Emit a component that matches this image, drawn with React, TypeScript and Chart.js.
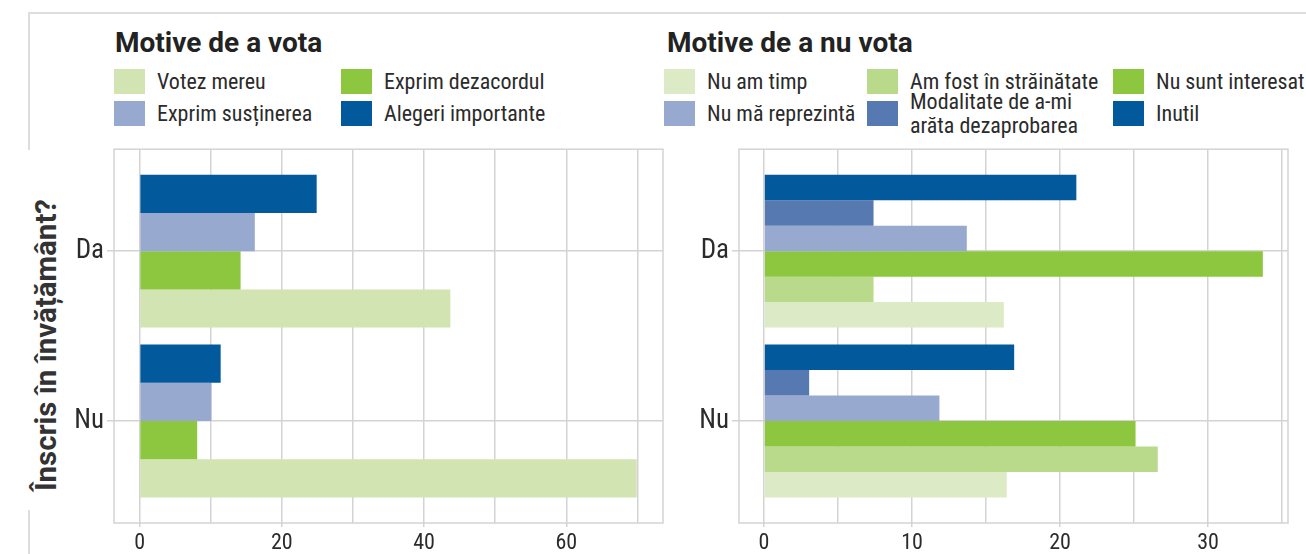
import React, { useEffect, useRef } from 'react';
import { Chart, registerables } from 'chart.js';
Chart.register(...registerables);

// ---------- data ----------
const groups = ['Da', 'Nu'];
const groupPositions = [1, 2];

// "Motive de a vota" (values for Da, Nu)
const votezMereu = [43.7, 69.9];
const exprimDezacordul = [14.2, 8.1];
const exprimSustinerea = [16.2, 10.1];
const alegeriImportante = [24.9, 11.4];

// "Motive de a nu vota" (values for Da, Nu)
const nuAmTimp = [16.2, 16.4];
const amFostInStrainatate = [7.4, 26.6];
const nuSuntInteresat = [33.7, 25.1];
const nuMaReprezinta = [13.7, 11.85];
const modalitateDezaprobare = [7.4, 3.05];
const inutil = [21.1, 16.9];

const leftTicks = [0, 10, 20, 30, 40, 50, 60, 70];
const rightTicks = [0, 5, 10, 15, 20, 25, 30, 35];

// ---------- styles ----------
const COND = '"Liberation Sans Narrow", "Roboto Condensed", "DejaVu Sans Condensed", Roboto, sans-serif';
const BOLD = 'Roboto, "Liberation Sans", Arial, sans-serif';
const GRID = '#d3d3d3';
const TEXT = '#2b2b2b';

type Series = { label: string; color: string; values: number[] };

const voteSeries: Series[] = [
  { label: 'Votez mereu', color: '#d1e4b1', values: votezMereu },
  { label: 'Exprim dezacordul', color: '#8dc63f', values: exprimDezacordul },
  { label: 'Exprim susținerea', color: '#98a9cf', values: exprimSustinerea },
  { label: 'Alegeri importante', color: '#02599c', values: alegeriImportante },
];

const noVoteSeries: Series[] = [
  { label: 'Nu am timp', color: '#dceac5', values: nuAmTimp },
  { label: 'Am fost în străinătate', color: '#b9da8a', values: amFostInStrainatate },
  { label: 'Nu sunt interesat', color: '#8dc63f', values: nuSuntInteresat },
  { label: 'Nu mă reprezintă', color: '#98a9cf', values: nuMaReprezinta },
  { label: 'Modalitate de a-mi\narăta dezaprobarea', color: '#5679b1', values: modalitateDezaprobare },
  { label: 'Inutil', color: '#02599c', values: inutil },
];

const panelBorder = {
  id: 'panelBorder',
  afterDatasetsDraw(chart: any) {
    const { ctx, chartArea: a } = chart;
    ctx.save();
    ctx.strokeStyle = GRID;
    ctx.lineWidth = 1.5;
    ctx.strokeRect(a.left, a.top, a.right - a.left, a.bottom - a.top);
    ctx.restore();
  },
};

type PanelProps = {
  series: Series[];
  xMin: number;
  xMax: number;
  ticks: number[];
  labelStep: number;
  left: number;
  width: number;
  padRight: number;
};

function BarPanel({ series, xMin, xMax, ticks, labelStep, left, width, padRight }: PanelProps) {
  const ref = useRef<HTMLCanvasElement>(null);
  useEffect(() => {
    if (!ref.current) return;
    const datasets = [...series].reverse().map((s) => ({
      label: s.label,
      data: groupPositions.map((p, i) => ({ x: s.values[i], y: p })),
      backgroundColor: s.color,
      borderWidth: 0,
      categoryPercentage: 0.9,
      barPercentage: 1,
    }));
    const chart = new Chart(ref.current, {
      type: 'bar',
      data: { datasets } as any,
      options: {
        indexAxis: 'y',
        responsive: false,
        animation: false,
        events: [],
        layout: { padding: { top: 17, right: padRight, left: 0, bottom: 0 } },
        plugins: { legend: { display: false }, tooltip: { enabled: false } },
        scales: {
          x: {
            type: 'linear',
            min: xMin,
            max: xMax,
            offset: false,
            afterBuildTicks: (s: any) => {
              s.ticks = ticks.map((v) => ({ value: v }));
            },
            afterFit: (s: any) => {
              s.height = 31;
            },
            border: { display: false },
            grid: {
              offset: false,
              color: GRID,
              lineWidth: 1.5,
              drawTicks: true,
              tickLength: 4,
              tickColor: (c: any) =>
                c.tick && c.tick.value % labelStep === 0 ? GRID : 'rgba(0,0,0,0)',
            },
            ticks: {
              autoSkip: false,
              maxRotation: 0,
              minRotation: 0,
              padding: 3,
              color: TEXT,
              font: { family: COND, size: 22 },
              callback: (v: any) => (Number(v) % labelStep === 0 ? String(v) : ''),
            },
          },
          y: {
            type: 'linear',
            reverse: true,
            min: 0.4,
            max: 2.6,
            offset: false,
            afterBuildTicks: (s: any) => {
              s.ticks = groupPositions.map((v) => ({ value: v }));
            },
            afterFit: (s: any) => {
              s.width = 74;
            },
            border: { display: false },
            grid: {
              offset: false,
              color: GRID,
              lineWidth: 1.5,
              drawTicks: true,
              tickLength: 7,
              tickColor: GRID,
            },
            ticks: {
              autoSkip: false,
              padding: 3,
              color: TEXT,
              font: { family: COND, size: 27 },
              callback: (v: any) => {
                const i = groupPositions.indexOf(Number(v));
                return i >= 0 ? groups[i] : '';
              },
            },
          },
        },
      } as any,
      plugins: [panelBorder],
    });
    return () => chart.destroy();
  }, []);
  return (
    <canvas
      ref={ref}
      width={width}
      height={424}
      style={{ position: 'absolute', left, top: 130, width, height: 424 }}
    />
  );
}

type LegendItem = { label: string; color: string; x: number; row: number; textX: number };

function Legend({ items }: { items: LegendItem[] }) {
  return (
    <>
      {items.map((it, i) => {
        const top = it.row === 0 ? 69 : 101;
        const lines = it.label.split('\n');
        return (
          <React.Fragment key={i}>
            <div
              style={{
                position: 'absolute',
                left: it.x,
                top,
                width: 31,
                height: 25,
                background: it.color,
              }}
            />
            <div
              style={{
                position: 'absolute',
                left: it.textX,
                top: top + 12.5 - (lines.length * 24) / 2,
                fontFamily: COND,
                fontSize: 22,
                lineHeight: '24px',
                color: TEXT,
                whiteSpace: 'nowrap',
              }}
            >
              {lines.map((l, j) => (
                <div key={j}>{l}</div>
              ))}
            </div>
          </React.Fragment>
        );
      })}
    </>
  );
}

export default function App() {
  const leftLegend: LegendItem[] = [
    { label: voteSeries[0].label, color: voteSeries[0].color, x: 114, row: 0, textX: 157 },
    { label: voteSeries[1].label, color: voteSeries[1].color, x: 341, row: 0, textX: 384 },
    { label: voteSeries[2].label, color: voteSeries[2].color, x: 114, row: 1, textX: 157 },
    { label: voteSeries[3].label, color: voteSeries[3].color, x: 341, row: 1, textX: 384 },
  ];
  const rightLegend: LegendItem[] = [
    { label: noVoteSeries[0].label, color: noVoteSeries[0].color, x: 664, row: 0, textX: 707 },
    { label: noVoteSeries[1].label, color: noVoteSeries[1].color, x: 867, row: 0, textX: 910 },
    { label: noVoteSeries[2].label, color: noVoteSeries[2].color, x: 1113, row: 0, textX: 1156 },
    { label: noVoteSeries[3].label, color: noVoteSeries[3].color, x: 664, row: 1, textX: 707 },
    { label: noVoteSeries[4].label, color: noVoteSeries[4].color, x: 867, row: 1, textX: 910 },
    { label: noVoteSeries[5].label, color: noVoteSeries[5].color, x: 1113, row: 1, textX: 1156 },
  ];
  return (
    <div
      style={{
        position: 'absolute',
        left: 0,
        top: 0,
        width: 1306,
        height: 554,
        background: '#ffffff',
        overflow: 'hidden',
      }}
    >
      {/* outer frame */}
      <div style={{ position: 'absolute', left: 28, top: 12, width: 1300, height: 2, background: '#dddddd' }} />
      <div style={{ position: 'absolute', left: 28, top: 12, width: 2, height: 138, background: '#dddddd' }} />
      <div style={{ position: 'absolute', left: 28, top: 510, width: 2, height: 44, background: '#dddddd' }} />

      {/* y axis title */}
      <div
        style={{
          position: 'absolute',
          left: 47,
          top: 345,
          transform: 'translate(-50%, -50%) rotate(-90deg)',
          fontFamily: BOLD,
          fontWeight: 700,
          fontSize: 29.5,
          color: '#333333',
          whiteSpace: 'nowrap',
          lineHeight: 1,
        }}
      >
        Înscris în învățământ?
      </div>

      {/* titles */}
      <div
        style={{
          position: 'absolute',
          left: 115,
          top: 29,
          fontFamily: BOLD,
          fontWeight: 700,
          fontSize: 28,
          lineHeight: 1,
          color: '#222222',
          whiteSpace: 'nowrap',
        }}
      >
        Motive de a vota
      </div>
      <div
        style={{
          position: 'absolute',
          left: 667,
          top: 29,
          fontFamily: BOLD,
          fontWeight: 700,
          fontSize: 28,
          lineHeight: 1,
          color: '#222222',
          whiteSpace: 'nowrap',
        }}
      >
        Motive de a nu vota
      </div>

      <Legend items={leftLegend} />
      <Legend items={rightLegend} />

      <BarPanel
        series={voteSeries}
        xMin={-3.6}
        xMax={73.6}
        ticks={leftTicks}
        labelStep={20}
        left={40}
        width={640}
        padRight={17}
      />
      <BarPanel
        series={noVoteSeries}
        xMin={-1.69}
        xMax={35.4}
        ticks={rightTicks}
        labelStep={10}
        left={665}
        width={641}
        padRight={18}
      />
    </div>
  );
}
